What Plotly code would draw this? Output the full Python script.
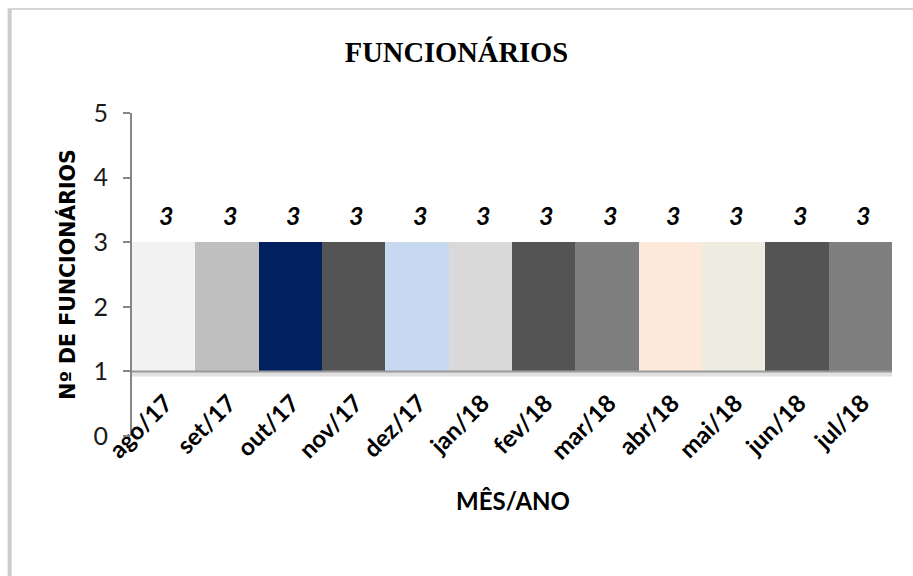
import plotly.graph_objects as go

# ---- data ----
months = ["ago/17", "set/17", "out/17", "nov/17", "dez/17", "jan/18",
          "fev/18", "mar/18", "abr/18", "mai/18", "jun/18", "jul/18"]
funcionarios = [3, 3, 3, 3, 3, 3, 3, 3, 3, 3, 3, 3]
floor_value = 1
bar_colors = ["#f2f2f2", "#bfbfbf", "#002060", "#545454", "#c6d9f1", "#d9d9d9",
              "#545454", "#7f7f7f", "#fde9d9", "#eeece1", "#545454", "#7f7f7f"]
y_ticks = [0, 1, 2, 3, 4, 5]

fig = go.Figure()
fig.add_trace(go.Bar(
    x=months,
    y=[v - floor_value for v in funcionarios],
    base=[floor_value] * len(funcionarios),
    marker=dict(color=bar_colors, line=dict(width=0)),
    hoverinfo="skip",
    showlegend=False,
))

# data labels
for m, v in zip(months, funcionarios):
    fig.add_annotation(x=m, y=v, text=f"<b><i>{v}</i></b>", showarrow=False,
                       yshift=27, xshift=3,
                       font=dict(family="Lato", size=25, color="#000000"))

# shadow under the bars at the floor level
fig.add_shape(type="rect", xref="x", yref="y", x0=-0.5, x1=11.5,
              y0=floor_value - 0.08, y1=floor_value,
              fillcolor="rgba(120,120,120,0.22)", line=dict(width=0), layer="below")
fig.add_shape(type="line", xref="x", yref="y", x0=-0.5, x1=11.5,
              y0=floor_value, y1=floor_value,
              line=dict(color="#9a9a9a", width=2))

# outer chart border (top and left edges visible)
fig.add_shape(type="line", xref="paper", yref="paper",
              x0=-0.163, x1=1.05, y0=1.322, y1=1.322,
              line=dict(color="#d4d4d4", width=2))
fig.add_shape(type="line", xref="paper", yref="paper",
              x0=-0.161, x1=-0.161, y0=-0.5, y1=1.322,
              line=dict(color="#cccccc", width=4))

fig.update_layout(
    width=913, height=576,
    margin=dict(l=132, r=21, t=113, b=140, autoexpand=False),
    paper_bgcolor="white", plot_bgcolor="white",
    bargap=0,
    title=dict(text="<b>FUNCIONÁRIOS</b>", x=0.5, xref="container", y=0.91, yanchor="middle",
               font=dict(family="Liberation Serif", size=28.5, color="#000000")),
    xaxis=dict(
        type="category", range=[-0.5, 11.5], automargin=False,
        anchor="free", position=0.2,
        showline=False, showgrid=False, ticks="",
        tickangle=-45, ticklabelstandoff=12, ticklabelshift=2,
        tickfont=dict(family="Lato", size=24, color="#000000", weight="bold"),
    ),
    yaxis=dict(
        range=[0, 5], tickvals=y_ticks, showgrid=False, zeroline=False, automargin=False,
        showline=True, linecolor="#868686", linewidth=2,
        ticks="outside", ticklen=7, tickcolor="#868686", tickwidth=2,
        ticklabelstandoff=10,
        tickfont=dict(family="Lato", size=25, color="#1a1a1a"),
        title=dict(text="<b>Nº DE FUNCIONÁRIOS</b>", standoff=12,
                   font=dict(family="DejaVu Sans", size=20.5, color="#000000")),
    ),
)

fig.add_annotation(xref="paper", yref="paper", x=0.501, y=-0.2, yanchor="middle",
                   text="<b>MÊS/ANO</b>", showarrow=False,
                   font=dict(family="Lato", size=24, color="#000000"))

fig.write_html("out.html", config={"displayModeBar": False},
               post_script="document.body.style.margin='0';")
